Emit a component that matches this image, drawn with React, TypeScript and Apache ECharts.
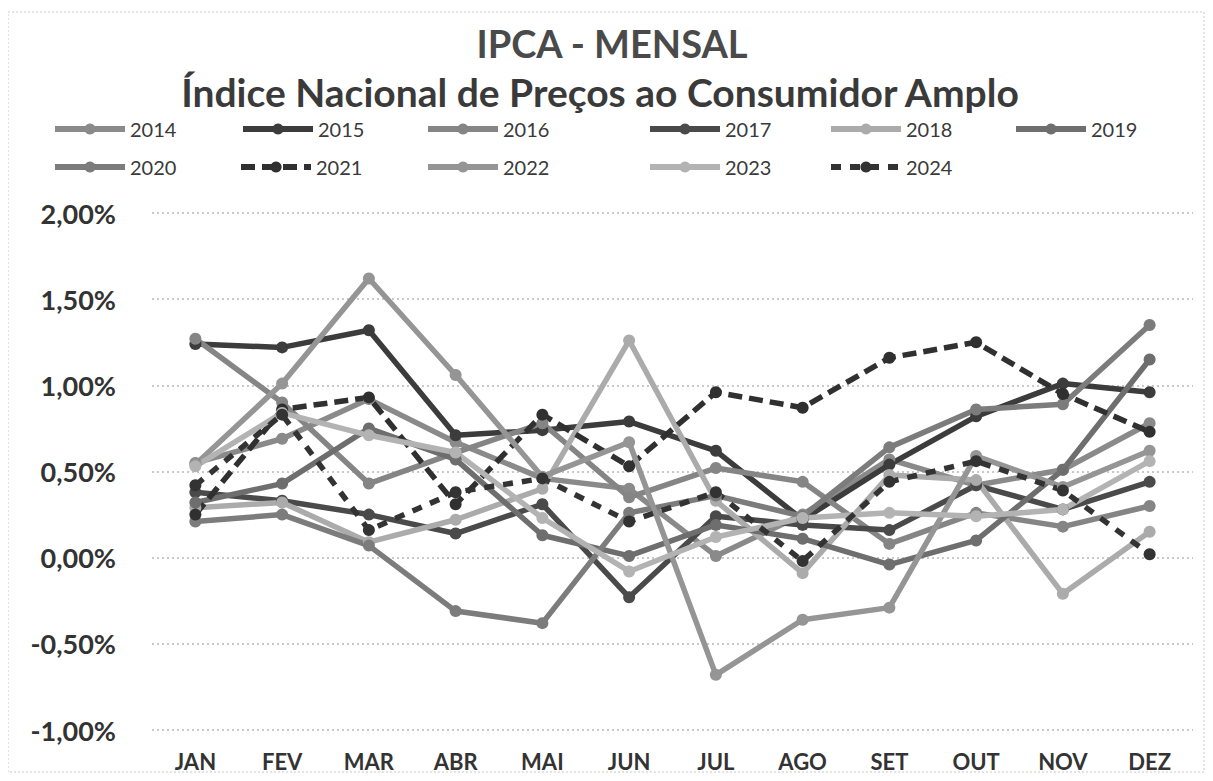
import React, { useEffect, useRef } from "react";
import * as echarts from "echarts";

const months = ["JAN", "FEV", "MAR", "ABR", "MAI", "JUN", "JUL", "AGO", "SET", "OUT", "NOV", "DEZ"];
const yTicks = [-1, -0.5, 0, 0.5, 1, 1.5, 2];

const y2014 = [0.55, 0.69, 0.92, 0.67, 0.46, 0.40, 0.01, 0.25, 0.57, 0.42, 0.51, 0.78];
const y2015 = [1.24, 1.22, 1.32, 0.71, 0.74, 0.79, 0.62, 0.22, 0.54, 0.82, 1.01, 0.96];
const y2016 = [1.27, 0.90, 0.43, 0.61, 0.78, 0.35, 0.52, 0.44, 0.08, 0.26, 0.18, 0.30];
const y2017 = [0.38, 0.33, 0.25, 0.14, 0.31, -0.23, 0.24, 0.19, 0.16, 0.42, 0.28, 0.44];
const y2018 = [0.29, 0.32, 0.09, 0.22, 0.40, 1.26, 0.33, -0.09, 0.48, 0.45, -0.21, 0.15];
const y2019 = [0.32, 0.43, 0.75, 0.57, 0.13, 0.01, 0.19, 0.11, -0.04, 0.10, 0.51, 1.15];
const y2020 = [0.21, 0.25, 0.07, -0.31, -0.38, 0.26, 0.36, 0.24, 0.64, 0.86, 0.89, 1.35];
const y2021 = [0.25, 0.86, 0.93, 0.31, 0.83, 0.53, 0.96, 0.87, 1.16, 1.25, 0.95, 0.73];
const y2022 = [0.54, 1.01, 1.62, 1.06, 0.47, 0.67, -0.68, -0.36, -0.29, 0.59, 0.41, 0.62];
const y2023 = [0.53, 0.84, 0.71, 0.61, 0.23, -0.08, 0.12, 0.23, 0.26, 0.24, 0.28, 0.56];
const y2024 = [0.42, 0.83, 0.16, 0.38, 0.46, 0.21, 0.38, -0.02, 0.44, 0.56, 0.39, 0.02];

const seriesDefs = [
  { name: "2014", data: y2014, color: "#8a8a8a", dash: "solid" },
  { name: "2015", data: y2015, color: "#3c3c3c", dash: "solid" },
  { name: "2016", data: y2016, color: "#858585", dash: "solid" },
  { name: "2017", data: y2017, color: "#4a4a4a", dash: "solid" },
  { name: "2018", data: y2018, color: "#ababab", dash: "solid" },
  { name: "2019", data: y2019, color: "#6e6e6e", dash: "solid" },
  { name: "2020", data: y2020, color: "#7c7c7c", dash: "solid" },
  { name: "2021", data: y2021, color: "#303030", dash: [14, 7] },
  { name: "2022", data: y2022, color: "#959595", dash: "solid" },
  { name: "2023", data: y2023, color: "#b3b3b3", dash: "solid" },
  { name: "2024", data: y2024, color: "#333333", dash: [10, 9] },
];

// legend text x-positions on the page (left of text) and rows
const legendX = [127, 315, 500, 722, 903, 1088, 127, 313, 500, 722, 903];
const legendRowY = [125, 163];

export default function App() {
  const ref = useRef<HTMLDivElement>(null);
  useEffect(() => {
    if (!ref.current) return;
    const chart = echarts.init(ref.current, undefined, { renderer: "svg" });
    const font = "Lato, 'Open Sans', sans-serif";
    const legends = seriesDefs.map((s, i) => ({
      data: [s.name],
      left: legendX[i] - 8 - 70 - 10,
      top: legendRowY[i < 6 ? 0 : 1] - 8 - 11,
      itemWidth: 70,
      itemHeight: 14,
      itemGap: 6,
      lineStyle: { width: 6 },
      textStyle: { fontFamily: font, fontSize: 20, color: "#3a3a3a" },
      selectedMode: false,
    }));
    chart.setOption({
      animation: false,
      backgroundColor: "#ffffff",
      title: [
        {
          text: "IPCA - MENSAL",
          left: 599,
          top: 11,
          textAlign: "center",
          textStyle: { fontFamily: font, fontSize: 38, fontWeight: "bold", color: "#4a4a4a" },
        },
        {
          text: "Índice Nacional de Preços ao Consumidor Amplo",
          left: 587,
          top: 59,
          textAlign: "center",
          textStyle: { fontFamily: font, fontSize: 39, fontWeight: "bold", color: "#3a3a3a" },
        },
      ],
      legend: legends,
      graphic: [
        {
          type: "rect",
          shape: { x: 0, y: 4, width: 1196, height: 760 },
          style: { fill: "none", stroke: "#c8c8c8", lineWidth: 1, lineDash: [2, 2] },
          silent: true,
        },
      ],
      grid: { left: 144, right: 12, top: 205, bottom: 43 },
      xAxis: {
        type: "category",
        data: months,
        boundaryGap: true,
        axisLine: { show: false },
        axisTick: { show: false },
        axisLabel: { fontFamily: font, fontSize: 22, fontWeight: "bold", color: "#333", margin: 20 },
      },
      yAxis: {
        type: "value",
        min: yTicks[0],
        max: yTicks[yTicks.length - 1],
        interval: 0.5,
        axisLine: { show: false },
        axisTick: { show: false },
        splitLine: { lineStyle: { color: "#b8b8b8", type: [2, 3], width: 1.5 } },
        axisLabel: {
          fontFamily: font,
          fontSize: 27,
          fontWeight: "bold",
          color: "#333",
          margin: 36,
          formatter: (v: number) => v.toFixed(2).replace(".", ",") + "%",
        },
      },
      series: seriesDefs.map((s) => ({
        name: s.name,
        type: "line",
        data: s.data,
        symbol: "circle",
        symbolSize: 12,
        color: s.color,
        lineStyle: { color: s.color, width: 5.5, type: s.dash },
        itemStyle: { color: s.color },
      })),
    });
    return () => chart.dispose();
  }, []);
  return <div ref={ref} style={{ width: 1197, height: 765 }} />;
}
